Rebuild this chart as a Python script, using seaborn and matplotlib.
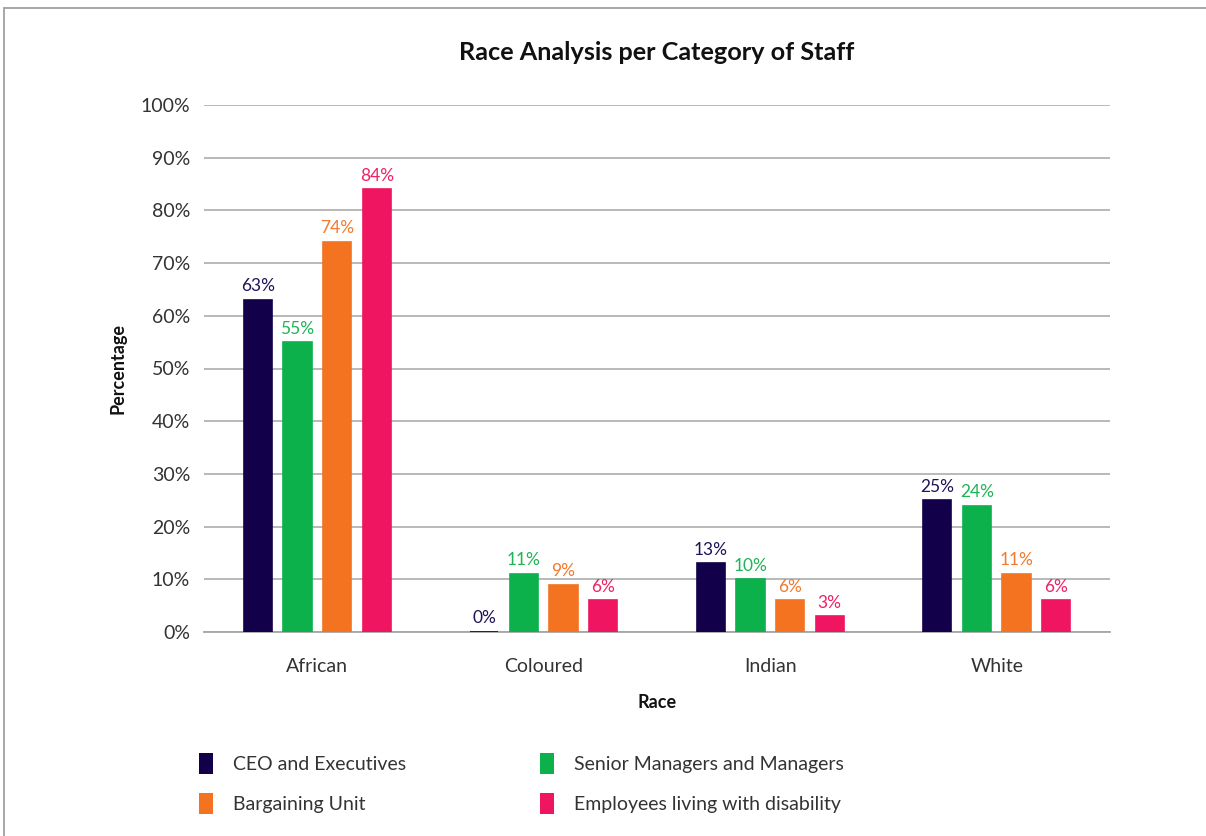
import matplotlib
matplotlib.use("Agg")
import matplotlib.pyplot as plt
import seaborn as sns
import pandas as pd
from matplotlib.lines import Line2D
from matplotlib.patches import Patch
from matplotlib.ticker import FixedLocator, FuncFormatter

races = ["African", "Coloured", "Indian", "White"]
categories = ["CEO and Executives", "Senior Managers and Managers",
              "Bargaining Unit", "Employees living with disability"]
ceo_exec = [63, 0, 13, 25]
senior_mgr = [55, 11, 10, 24]
bargaining = [74, 9, 6, 11]
disability = [84, 6, 3, 6]
palette = ["#12004a", "#0db14b", "#f37321", "#ef1560"]
label_colors = ["#1d1456", "#1fb457", "#f37a2e", "#ee2263"]

rows = []
for cat, vals in zip(categories, [ceo_exec, senior_mgr, bargaining, disability]):
    for race, v in zip(races, vals):
        rows.append({"Race": race, "Category": cat, "Percentage": v})
df = pd.DataFrame(rows)

sns.set_style("white")
plt.rcParams["font.family"] = ["Lato", "DejaVu Sans"]

fig = plt.figure(figsize=(12.06, 8.36), dpi=100)
ax = fig.add_axes([204 / 1206, 1 - 632 / 836, (1110 - 204) / 1206, (632 - 105) / 836])

sns.barplot(data=df, x="Race", y="Percentage", hue="Category",
            order=races, hue_order=categories, palette=palette,
            width=0.7, gap=0.29, saturation=1, ax=ax, zorder=3, legend=False)

for cont, col in zip(ax.containers, palette):
    for p in cont:
        p.set_edgecolor(col)
        p.set_linewidth(1.2)

for cont, col in zip(ax.containers, label_colors):
    ax.bar_label(cont, labels=[f"{int(round(v))}%" for v in cont.datavalues],
                 padding=4, color=col, fontsize=12.5)

ax.set_ylim(0, 100)
ax.set_xlim(-0.5, len(races) - 0.5)
ax.yaxis.set_major_locator(FixedLocator(range(0, 101, 10)))
ax.yaxis.set_major_formatter(FuncFormatter(lambda v, _: f"{int(v)}%"))
ax.grid(axis="y", color="#b3b3b3", linewidth=1.3, zorder=0)
ax.set_axisbelow(True)
for s in ["top", "right", "left"]:
    ax.spines[s].set_visible(False)
ax.spines["bottom"].set_color("#a6a6a6")
ax.spines["bottom"].set_linewidth(1.3)

ax.tick_params(axis="y", length=0, pad=10, labelsize=14, labelcolor="#333333")
ax.tick_params(axis="x", which="major", length=0, pad=19, labelsize=14, labelcolor="#333333")
ax.xaxis.set_minor_locator(FixedLocator([-0.5, 0.5, 1.5, 2.5, 3.5]))
ax.tick_params(axis="x", which="minor", direction="in", length=13, width=1.3, color="#a6a6a6")

ax.set_xlabel("Race", fontsize=13, fontweight="bold", color="#111111")
ax.xaxis.set_label_coords(0.5, -(694 - 632) / 527)
ax.set_ylabel("Percentage", fontsize=13, fontweight="bold", color="#111111")
ax.yaxis.set_label_coords((127 - 204) / 906, 0.5)

fig.text(657 / 1206, 1 - 53 / 836, "Race Analysis per Category of Staff",
         ha="center", va="center", fontsize=18.2, fontweight="bold", color="#111111")

# legend laid out row-wise: CEO / Senior on the first row, Bargaining / Disability on the second
order = [0, 2, 1, 3]
handles = [Patch(facecolor=palette[i], edgecolor="none") for i in order]
labels = [categories[i] for i in order]
fig.legend(handles, labels,
           loc="upper left", bbox_to_anchor=(199 / 1206, 1 - 753 / 836),
           ncol=2, frameon=False, fontsize=14, handlelength=0.72, handleheight=1.28,
           handletextpad=1.03, columnspacing=6.9, labelspacing=1.0,
           borderpad=0, borderaxespad=0, labelcolor="#333333")

# outer frame lines (top and left)
fig.add_artist(Line2D([4 / 1206, 4 / 1206], [0, 1 - 8 / 836], transform=fig.transFigure,
                      color="#a0a0a0", linewidth=1.3))
fig.add_artist(Line2D([4 / 1206, 1], [1 - 8 / 836, 1 - 8 / 836], transform=fig.transFigure,
                      color="#a0a0a0", linewidth=1.3))

fig.savefig("out.png", dpi=100)
